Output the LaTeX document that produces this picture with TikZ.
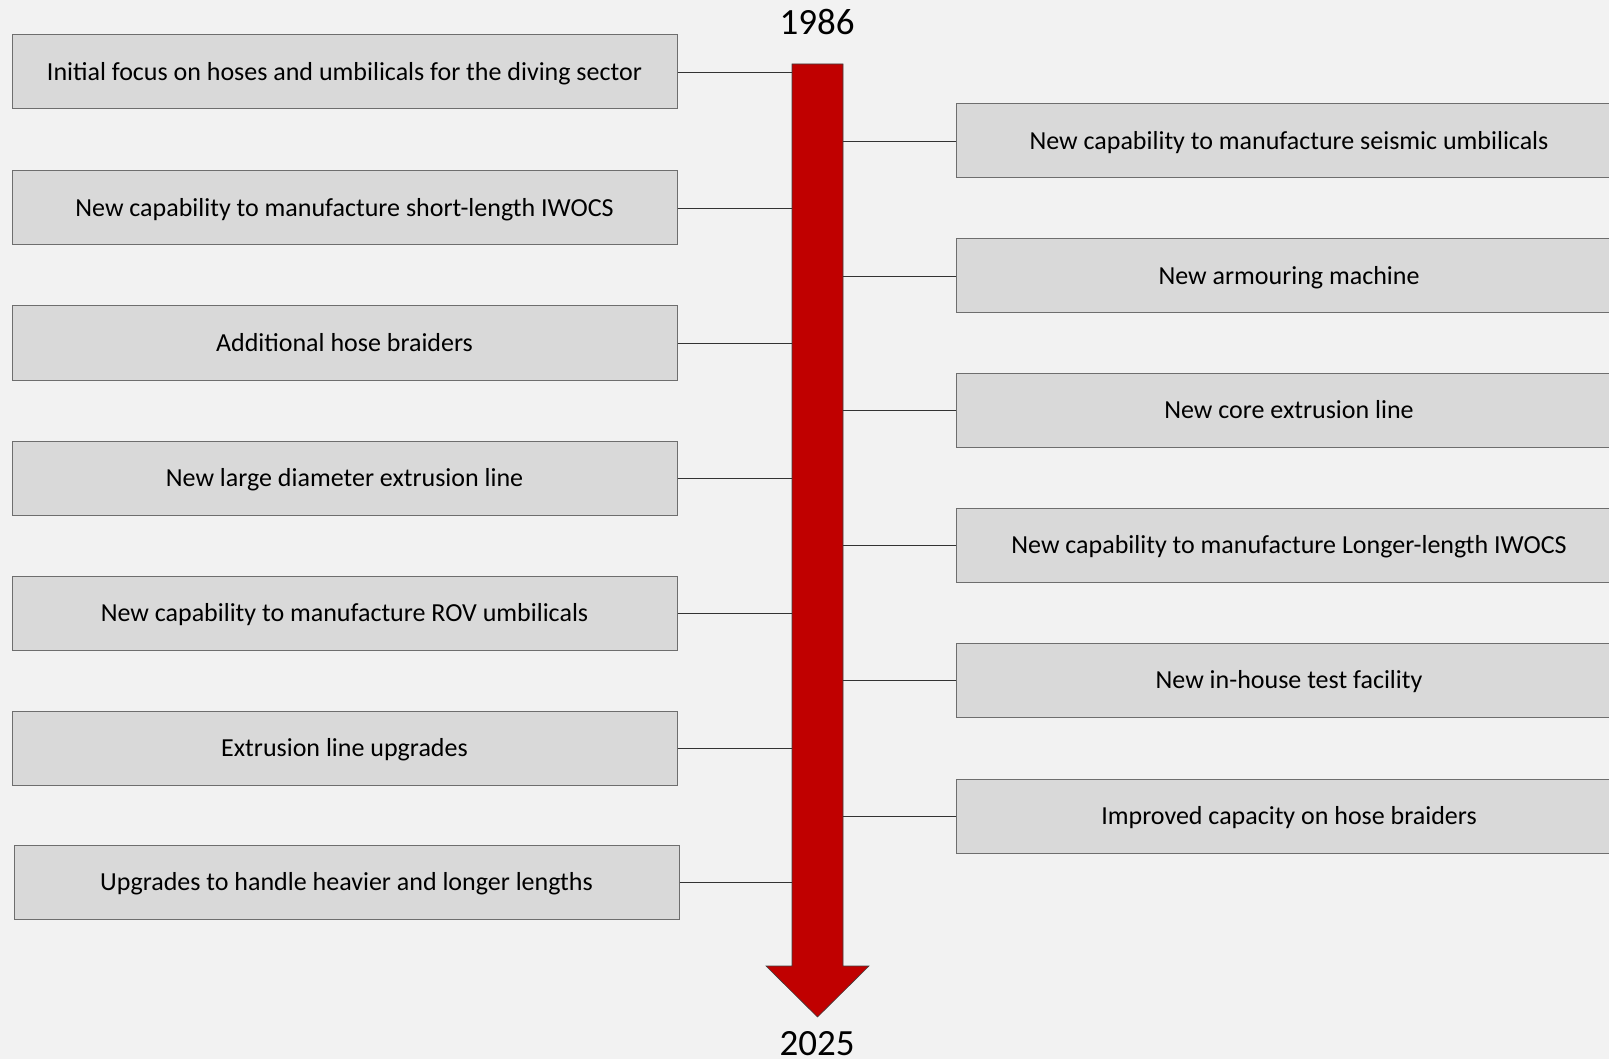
\documentclass[tikz,border=0pt]{standalone}
\usepackage{fontspec}
\setmainfont{Carlito}
\usetikzlibrary{positioning}
\definecolor{bgcol}{HTML}{F2F2F2}
\definecolor{boxfill}{HTML}{D9D9D9}
\definecolor{boxline}{HTML}{6E6E6E}
\definecolor{arrowred}{HTML}{C00000}
\definecolor{arrowline}{HTML}{404040}
\begin{document}
\begin{tikzpicture}[
			x = 1pt, y = -1pt,
			event/.style = {draw = boxline, fill = boxfill, line width = 1pt, minimum width = 665pt, minimum height = 74pt, inner sep = 0pt, text height = 16.7pt, text depth = 0pt, font = \fontsize{26}{30}\selectfont},
			link/.style = {draw = black!80, line width = 0.8pt},
			year/.style = {font = \fontsize{37}{44}\selectfont}
			]

			\fill[bgcol] (0,0) rectangle (1609,1059);
			\useasboundingbox (0,0) rectangle (1609,1059);

			\draw[fill = arrowred, draw = arrowline, line width = 0.6pt] (792,64) -- (843,64) -- (843,966) -- (869,966) -- (817.5,1017) -- (766,966) -- (792,966) -- cycle;
			\coordinate (shaftL) at (792,64);
			\coordinate (shaftR) at (843,64);

			\node[year] (start) at (817,22) {1986};
			\node[year] (finish) at (817,1044) {2025};

			\node[event] (l1) at (344.5,72) {Initial focus on hoses and umbilicals for the diving sector};
			\node[event] (l2) at (344.5,208) {New capability to manufacture short-length IWOCS};
			\node[event] (l3) at (344.5,343) {Additional hose braiders};
			\node[event] (l4) at (344.5,478) {New large diameter extrusion line};
			\node[event] (l5) at (344.5,613) {New capability to manufacture ROV umbilicals};
			\node[event] (l6) at (344.5,748) {Extrusion line upgrades};
			\node[event] (l7) at (346.5,882) {Upgrades to handle heavier and longer lengths};

			\node[event] (r1) at (1289,141) {New capability to manufacture seismic umbilicals};
			\node[event] (r2) at (1289,276) {New armouring machine};
			\node[event] (r3) at (1289,410) {New core extrusion line};
			\node[event] (r4) at (1289,545) {New capability to manufacture Longer-length IWOCS};
			\node[event] (r5) at (1289,680) {New in-house test facility};
			\node[event] (r6) at (1289,816) {Improved capacity on hose braiders};

			\draw[link] (l1.east) -- (l1.east -| shaftL);
			\draw[link] (l2.east) -- (l2.east -| shaftL);
			\draw[link] (l3.east) -- (l3.east -| shaftL);
			\draw[link] (l4.east) -- (l4.east -| shaftL);
			\draw[link] (l5.east) -- (l5.east -| shaftL);
			\draw[link] (l6.east) -- (l6.east -| shaftL);
			\draw[link] (l7.east) -- (l7.east -| shaftL);

			\draw[link] (r1.west) -- (r1.west -| shaftR);
			\draw[link] (r2.west) -- (r2.west -| shaftR);
			\draw[link] (r3.west) -- (r3.west -| shaftR);
			\draw[link] (r4.west) -- (r4.west -| shaftR);
			\draw[link] (r5.west) -- (r5.west -| shaftR);
			\draw[link] (r6.west) -- (r6.west -| shaftR);

		\end{tikzpicture}
\end{document}
